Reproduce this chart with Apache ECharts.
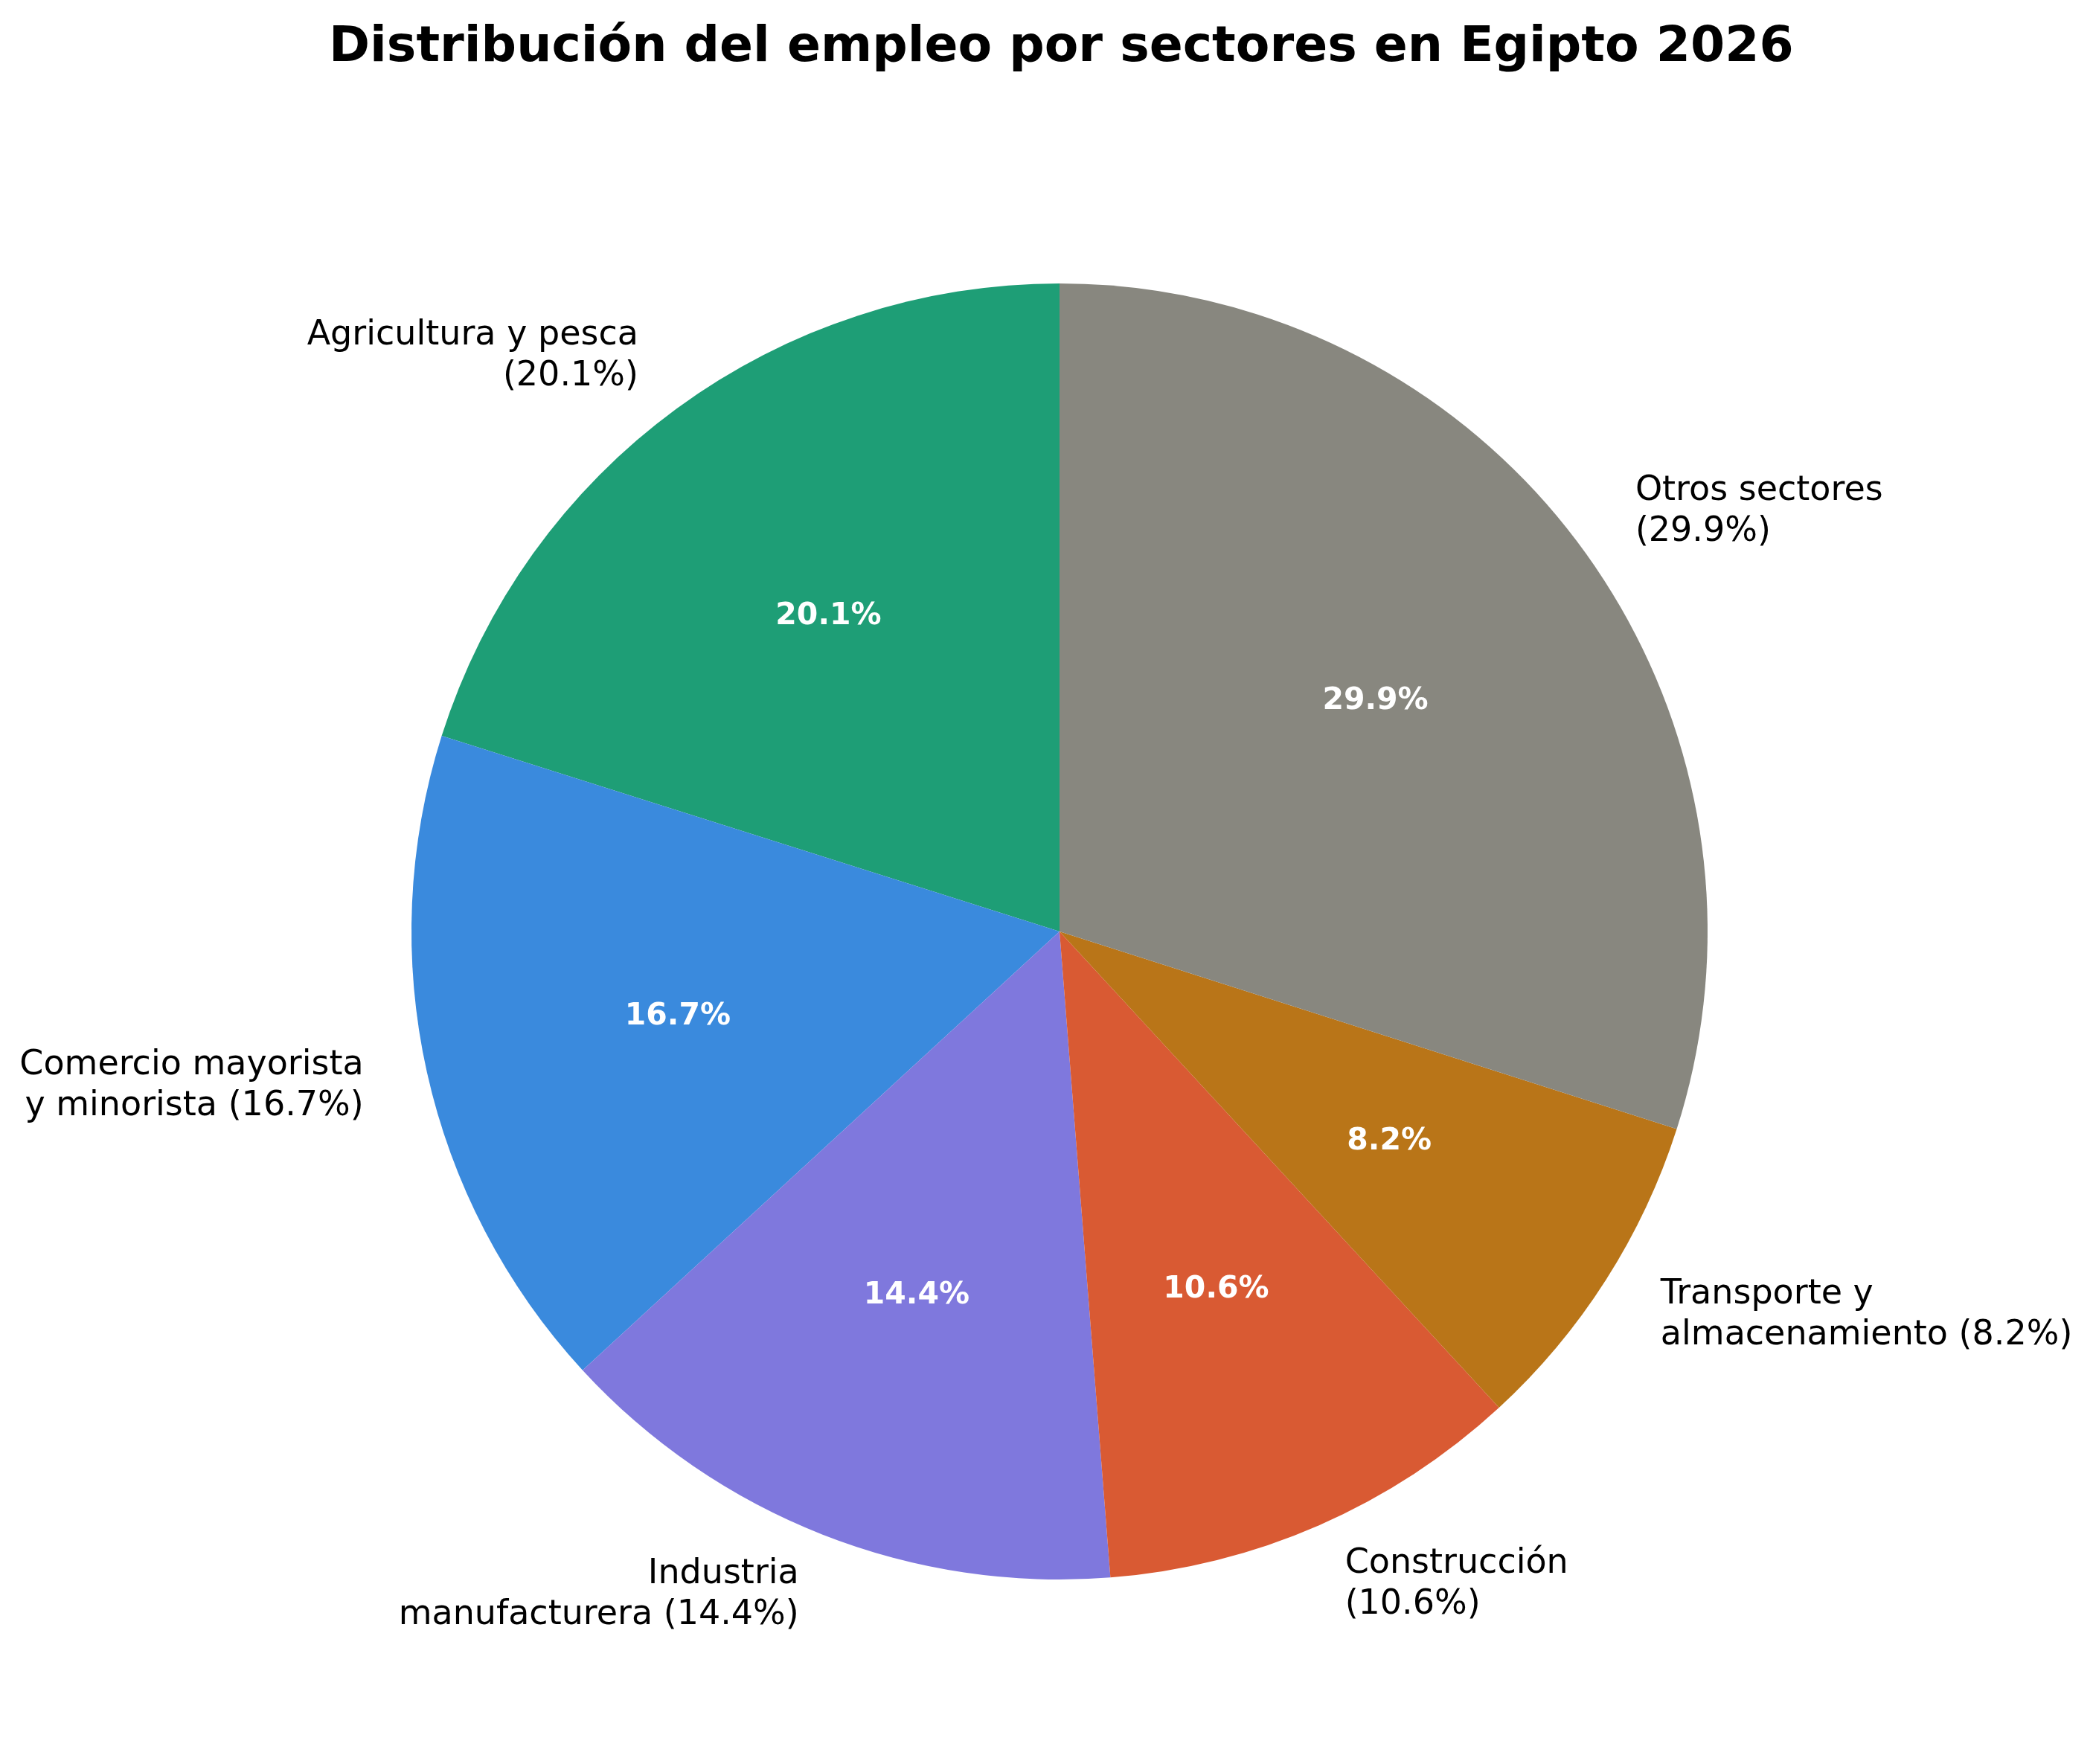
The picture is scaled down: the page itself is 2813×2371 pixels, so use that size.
<!DOCTYPE html>
<html>
<head>
<meta charset="utf-8">
<script src="https://cdn.jsdelivr.net/npm/echarts@6/dist/echarts.min.js"></script>
<style>
  html, body { margin: 0; padding: 0; background: #fff; }
  #chart { width: 2813px; height: 2371px; }
</style>
</head>
<body>
<div id="chart"></div>
<script>
// datos del gráfico
const sectores = [
  "Agricultura y pesca\n(20.1%)",
  "Comercio mayorista\ny minorista (16.7%)",
  "Industria\nmanufacturera (14.4%)",
  "Construcción\n(10.6%)",
  "Transporte y\nalmacenamiento (8.2%)",
  "Otros sectores\n(29.9%)"
];
const valores = [20.1, 16.7, 14.4, 10.6, 8.2, 29.9];
const colores = ["#1e9e76", "#3a8add", "#7f78dd", "#d95a33", "#b97518", "#88877f"];

const cx = 1424, cy = 1252, r = 871;
const fuente = "DejaVu Sans";

const datos = sectores.map((s, i) => ({
  name: s,
  value: valores[i],
  itemStyle: { color: colores[i] }
}));

var myChart = echarts.init(document.getElementById("chart"));
myChart.setOption({
  backgroundColor: "#ffffff",
  animation: false,
  title: {
    text: "Distribución del empleo por sectores en Egipto 2026",
    left: 442,
    top: 32,
    padding: 0,
    textStyle: {
      fontFamily: fuente,
      fontSize: 66.4,
      fontWeight: "bold",
      color: "#000"
    }
  },
  series: [
    {
      // porciones con etiquetas exteriores
      type: "pie",
      center: [cx, cy],
      radius: [0, r],
      startAngle: 90,
      clockwise: false,
      avoidLabelOverlap: false,
      label: {
        show: true,
        position: "outside",
        distanceToLabelLine: 0,
        fontFamily: fuente,
        fontSize: 46,
        lineHeight: 55,
        color: "#000"
      },
      labelLine: { show: false, length: r * 0.1, length2: 0 },
      itemStyle: { borderWidth: 0 },
      emphasis: { disabled: true },
      data: datos
    },
    {
      // capa transparente para los porcentajes internos (0.6 r)
      type: "pie",
      center: [cx, cy],
      radius: [r * 0.2, r],
      startAngle: 90,
      clockwise: false,
      silent: true,
      label: {
        show: true,
        position: "inside",
        formatter: p => p.value.toFixed(1) + "%",
        fontFamily: fuente,
        fontSize: 41,
        fontWeight: "bold",
        color: "#fff"
      },
      labelLine: { show: false },
      itemStyle: { color: "rgba(0,0,0,0)", borderWidth: 0 },
      data: valores.map((v, i) => ({ name: "p" + i, value: v }))
    }
  ]
});
</script>
</body>
</html>
